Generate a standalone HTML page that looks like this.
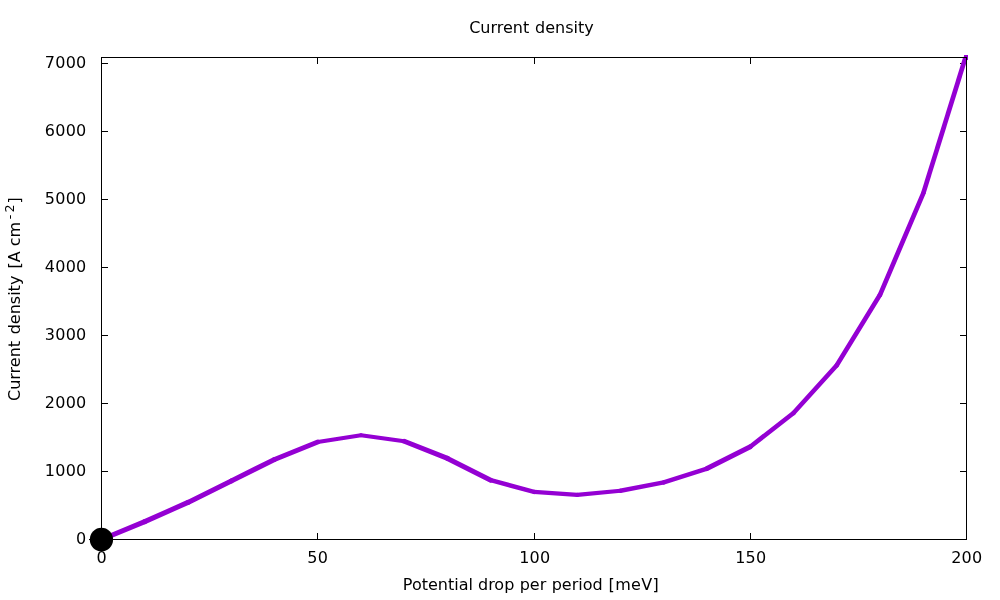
<!DOCTYPE html>
<html>
<head>
<meta charset="utf-8">
<title>Current density</title>
<style>
html,body{margin:0;padding:0;background:#fff;}
body{width:1000px;height:600px;overflow:hidden;}
svg{display:block;}
text{font-family:"DejaVu Sans","Liberation Sans",sans-serif;font-size:16px;fill:#000;}
</style>
</head>
<body>
<svg width="1000" height="600" viewBox="0 0 1000 600">
<rect x="0" y="0" width="1000" height="600" fill="#ffffff"/>

<!-- ticks (behind the curve) -->
<g stroke="#000" stroke-width="1" fill="none" shape-rendering="crispEdges">
<path d="M101 539.5H108M101 471.5H108M101 403.5H108M101 335.5H108M101 267.5H108M101 199.5H108M101 131.5H108M101 63.5H108"/>
<path d="M960 539.5H967M960 471.5H967M960 403.5H967M960 335.5H967M960 267.5H967M960 199.5H967M960 131.5H967M960 63.5H967"/>
<path d="M101.5 540V533M317.5 540V533M534.5 540V533M750.5 540V533M966.5 540V533"/>
<path d="M101.5 57V64M317.5 57V64M534.5 57V64M750.5 57V64M966.5 57V64"/>
</g>

<!-- data curve -->
<g fill="none" stroke="#9400d3" stroke-linecap="round">
<line x1="101.5" y1="539.5" x2="144.75" y2="521.6" stroke-width="5.0"/>
<line x1="144.75" y1="521.6" x2="188" y2="502.4" stroke-width="5.0"/>
<line x1="188" y1="502.4" x2="231.25" y2="480.9" stroke-width="5.0"/>
<line x1="231.25" y1="480.9" x2="274.5" y2="459.5" stroke-width="5.0"/>
<line x1="274.5" y1="459.5" x2="317.75" y2="442" stroke-width="5.0"/>
<line x1="317.75" y1="442" x2="361" y2="435.2" stroke-width="4.1"/>
<line x1="361" y1="435.2" x2="404.25" y2="441.3" stroke-width="4.1"/>
<line x1="404.25" y1="441.3" x2="447.5" y2="458.4" stroke-width="5.0"/>
<line x1="447.5" y1="458.4" x2="490.75" y2="480.2" stroke-width="5.0"/>
<line x1="490.75" y1="480.2" x2="534" y2="491.9" stroke-width="4.5"/>
<line x1="534" y1="491.9" x2="577.25" y2="494.9" stroke-width="4.1"/>
<line x1="577.25" y1="494.9" x2="620.5" y2="490.7" stroke-width="4.1"/>
<line x1="620.5" y1="490.7" x2="663.75" y2="482.4" stroke-width="4.5"/>
<line x1="663.75" y1="482.4" x2="707" y2="468.6" stroke-width="4.5"/>
<line x1="707" y1="468.6" x2="750.25" y2="446.7" stroke-width="5.0"/>
<line x1="750.25" y1="446.7" x2="793.5" y2="413" stroke-width="4.6"/>
<line x1="793.5" y1="413" x2="836.75" y2="365.3" stroke-width="4.6"/>
<line x1="836.75" y1="365.3" x2="880" y2="294.8" stroke-width="4.6"/>
<line x1="880" y1="294.8" x2="923.25" y2="193.4" stroke-width="4.7"/>
<line x1="923.25" y1="193.4" x2="965.5" y2="57.5" stroke-width="4.7" stroke-linecap="butt"/>
</g>
<!-- curve end cap poking over the top right corner -->
<path d="M964 55H968V60H967V57H964Z" fill="#9400d3" shape-rendering="crispEdges"/>

<!-- border (in front of the curve) -->
<rect x="101.5" y="57.5" width="865" height="482" stroke="#000" stroke-width="1" fill="none" shape-rendering="crispEdges"/>

<!-- origin marker -->
<ellipse cx="101.45" cy="539.6" rx="11.65" ry="11.9" fill="#000"/>
<rect x="89" y="539" width="2" height="1" fill="#000" shape-rendering="crispEdges"/>

<!-- y tick labels -->
<g text-anchor="end" letter-spacing="0.25">
<text x="86.5" y="544">0</text>
<text x="86.5" y="476">1000</text>
<text x="86.5" y="408">2000</text>
<text x="86.5" y="340">3000</text>
<text x="86.5" y="272">4000</text>
<text x="86.5" y="204">5000</text>
<text x="86.5" y="136">6000</text>
<text x="86.5" y="68">7000</text>
</g>

<!-- x tick labels -->
<g text-anchor="middle" letter-spacing="0.25">
<text x="101.6" y="563">0</text>
<text x="317.8" y="563">50</text>
<text x="534.8" y="563">100</text>
<text x="750.8" y="563">150</text>
<text x="966.8" y="563">200</text>
</g>

<!-- title -->
<text y="32.7"><tspan x="469.2">Current</tspan><tspan x="535.1">density</tspan></text>

<!-- x label -->
<text y="589.8"><tspan x="402.8">Potential drop</tspan><tspan x="519.7">per</tspan><tspan x="551.7">period</tspan><tspan x="608.6" letter-spacing="0.35">[meV]</tspan></text>

<!-- y label -->
<text transform="translate(20,0) rotate(-90)"><tspan x="-401">Current</tspan><tspan x="-334.3">density</tspan><tspan x="-268.6">[A cm</tspan><tspan x="-219.2" dy="-6.2" font-size="12.8px">-</tspan><tspan x="-212.4" font-size="12.8px">2</tspan><tspan x="-203.45" dy="6.2">]</tspan></text>
</svg>
</body>
</html>
